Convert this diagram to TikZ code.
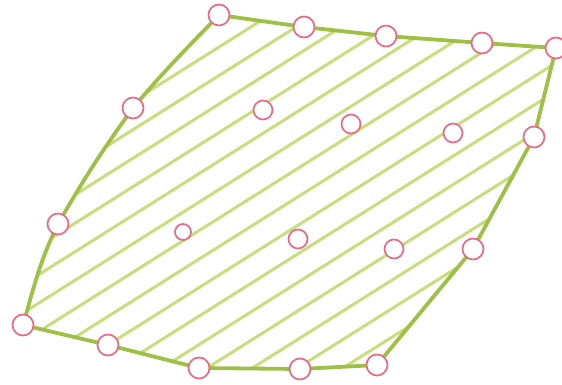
\documentclass[tikz,border=0pt]{standalone}
\begin{document}
\begin{tikzpicture}[x=1pt,y=1pt,
  edge/.style={draw=edgegreen,line width=3.8pt,line cap=round,line join=round},
  hatch/.style={draw=hatchgreen,line width=3pt,line cap=round},
  dot/.style={circle,draw=dotpink,line width=1.7pt,fill=white,inner sep=0pt,minimum size=21pt},
  idot/.style={dot,minimum size=19pt},
  sdot/.style={dot,minimum size=16pt}]
\definecolor{edgegreen}{RGB}{158,192,68}
\definecolor{hatchgreen}{RGB}{200,221,125}
\definecolor{dotpink}{RGB}{236,104,130}
\useasboundingbox (0,0) rectangle (562,385);
% corner coordinates
\coordinate (cA) at (219,370);
\coordinate (cB) at (304,358);
\coordinate (cC) at (386,349);
\coordinate (cD) at (482,342);
\coordinate (cE) at (556,337);
\coordinate (cF) at (534,248);
\coordinate (cG) at (473,136);
\coordinate (cH) at (377,20);
\coordinate (cI) at (300,16);
\coordinate (cJ) at (199,17);
\coordinate (cK) at (108,40);
\coordinate (cL) at (23,60);
\coordinate (cM) at (58,161);
\coordinate (cN) at (133,277);
% hatching clipped to the outline
\begin{scope}
\clip (cL) to[out=74,in=-116] (cM) to[out=60,in=-126] (cN) to[out=50,in=-134] (cA)
  -- (cB) -- (cC) -- (cD) -- (cE) -- (cF) -- (cG) -- (cH) -- (cI) -- (cJ) -- (cK) -- cycle;
\foreach \d in {200,171.5,...,-200}{
  \draw[hatch] (0,\d) -- (562,\d+354);
}
\end{scope}
% outline
\draw[edge] (cL) to[out=74,in=-116] (cM) to[out=60,in=-126] (cN) to[out=50,in=-134] (cA)
  -- (cB) -- (cC) -- (cD) -- (cE) -- (cF) -- (cG) -- (cH) -- (cI) -- (cJ) -- (cK) -- cycle;
% points
\node[dot] (A) at (cA) {};
\node[dot] (B) at (cB) {};
\node[dot] (C) at (cC) {};
\node[dot] (D) at (cD) {};
\node[dot] (E) at (cE) {};
\node[dot] (F) at (cF) {};
\node[dot] (G) at (cG) {};
\node[dot] (H) at (cH) {};
\node[dot] (I) at (cI) {};
\node[dot] (J) at (cJ) {};
\node[dot] (K) at (cK) {};
\node[dot] (L) at (cL) {};
\node[dot] (M) at (cM) {};
\node[dot] (N) at (cN) {};
\node[idot] (P1) at (263,275) {};
\node[idot] (P2) at (351,261) {};
\node[idot] (P3) at (453,252) {};
\node[sdot] (P4) at (183,153) {};
\node[idot] (P5) at (298,146) {};
\node[idot] (P6) at (394,136) {};
\end{tikzpicture}
\end{document}
